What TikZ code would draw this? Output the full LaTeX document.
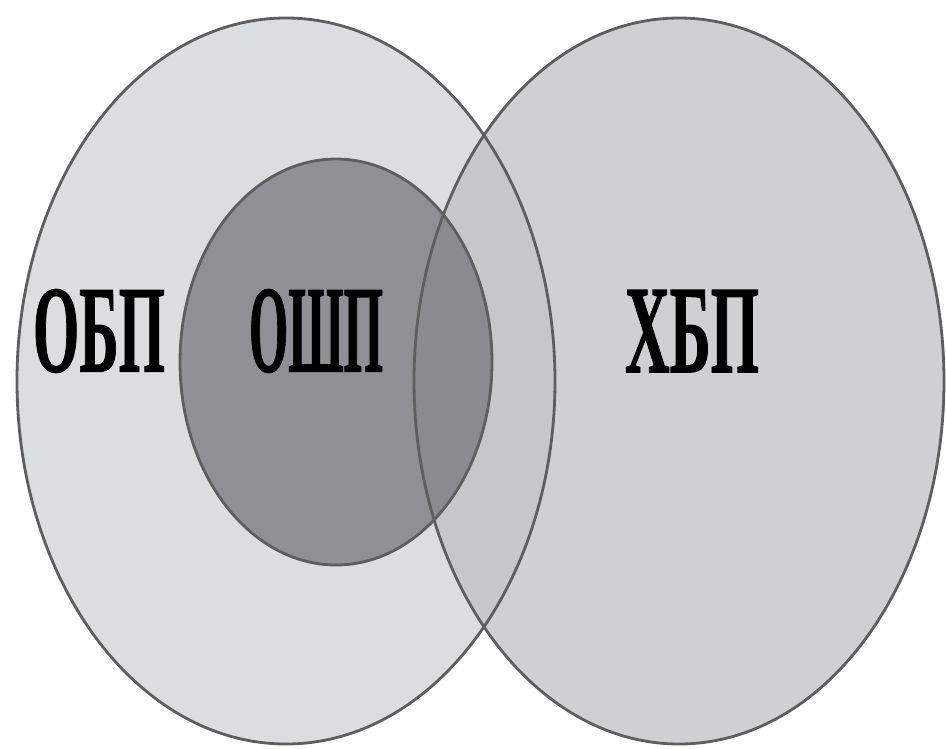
\documentclass[tikz,border=0pt]{standalone}
\usepackage{fontspec}
\setmainfont{Liberation Serif}
\newfontfamily\heavyserif{Liberation Serif Bold}[FakeBold=1.2]
\definecolor{fillL}{HTML}{DCDDDF}
\definecolor{fillR}{HTML}{CFD0D2}
\definecolor{fillLens}{HTML}{C6C7C9}
\definecolor{fillIn}{HTML}{8F9094}
\definecolor{fillInLens}{HTML}{8A8B8F}
\definecolor{edge}{HTML}{5E5E5E}
\newcommand{\vlabel}[2]{\resizebox{#1}{82pt}{\heavyserif #2}}
\begin{document}
\begin{tikzpicture}[x=1pt,y=-1pt,
  outline/.style={draw=edge,line width=2.8pt},
  label/.style={inner sep=0pt,anchor=center}]
\useasboundingbox (0,0) rectangle (946,748);
% set shapes
\def\setL{(286,381) ellipse [x radius=269pt, y radius=363pt]}
\def\setR{(679,381) ellipse [x radius=265pt, y radius=363pt]}
\def\setI{(336,362) ellipse [x radius=156pt, y radius=203pt]}
% fills
\fill[fillL] \setL;
\fill[fillR] \setR;
\begin{scope}
  \clip \setL;
  \fill[fillLens] \setR;
\end{scope}
\fill[fillIn] \setI;
\begin{scope}
  \clip \setR;
  \fill[fillInLens] \setI;
\end{scope}
% outlines
\draw[outline] \setL;
\draw[outline] \setR;
\draw[outline] \setI;
% labels
\node[label] (obp) at (99,331) {\vlabel{132pt}{ОБП}};
\node[label] (oshp) at (316,331) {\vlabel{134pt}{ОШП}};
\node[label] (hbp) at (692,331) {\vlabel{134pt}{ХБП}};
\end{tikzpicture}
\end{document}
